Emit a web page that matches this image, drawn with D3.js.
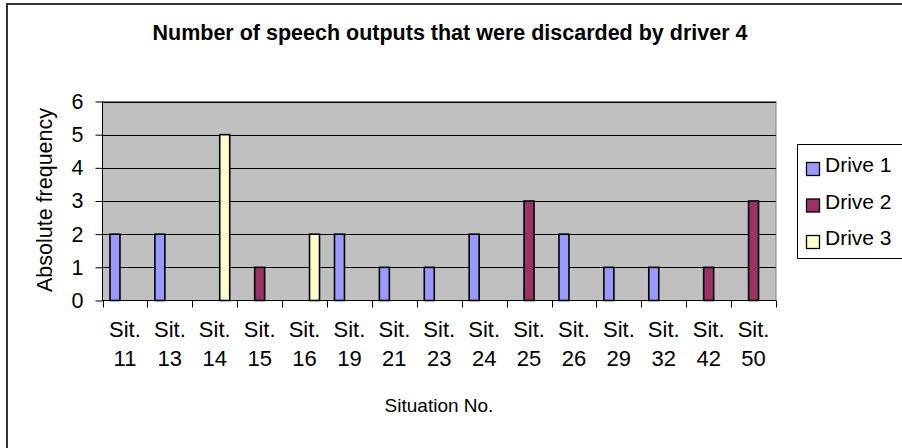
<!DOCTYPE html>
<html>
<head>
<meta charset="utf-8">
<script src="https://cdn.jsdelivr.net/npm/d3@7/dist/d3.min.js"></script>
<style>
  body { margin: 0; background: #fff; }
  text { font-family: "Liberation Sans", Arial, sans-serif; fill: #000; }
</style>
</head>
<body>
<div id="chart"></div>
<script>
// situations on the x axis
var situations = ['11', '13', '14', '15', '16', '19', '21', '23', '24', '25', '26', '29', '32', '42', '50'];
var seriesNames = ['Drive 1', 'Drive 2', 'Drive 3'];
var seriesColors = ['#9999FF', '#993366', '#FFFFCC'];
// one value per situation, null = no bar
var drive1 = [2, 2, null, null, null, 2, 1, 1, 2, null, 2, 1, 1, null, null];
var drive2 = [null, null, null, 1, null, null, null, null, null, 3, null, null, null, 1, 3];
var drive3 = [null, null, 5, null, 2, null, null, null, null, null, null, null, null, null, null];
var yTicks = [0, 1, 2, 3, 4, 5, 6];

var W = 902, H = 448;
var plot = {left: 102.5, right: 776, top: 101.5, bottom: 300.5};

var svg = d3.select('#chart').append('svg')
    .attr('width', W)
    .attr('height', H);

// outer chart frame (right/bottom edges run off the picture)
svg.append('rect')
    .attr('x', 7).attr('y', 4)
    .attr('width', 1000).attr('height', 1000)
    .attr('fill', 'none')
    .attr('stroke', '#333')
    .attr('stroke-width', 2);

svg.append('text')
    .attr('x', 450).attr('y', 40)
    .attr('text-anchor', 'middle')
    .attr('font-weight', 'bold')
    .attr('font-size', 21.5)
    .text('Number of speech outputs that were discarded by driver 4');

var x = d3.scaleBand()
    .domain(situations)
    .range([plot.left, plot.right])
    .paddingInner(0)
    .paddingOuter(0);

var y = d3.scaleLinear()
    .domain([0, 6])
    .range([plot.bottom, plot.top]);

// Excel style: gap width 150% -> group is 3/(3+1.5) of the band
var inner = d3.scaleBand()
    .domain(seriesNames)
    .range([0, x.bandwidth() * 3 / 4.5]);
var offset = x.bandwidth() * 0.75 / 4.5;

svg.append('rect')
    .attr('x', plot.left).attr('y', plot.top)
    .attr('width', plot.right - plot.left)
    .attr('height', plot.bottom - plot.top)
    .attr('fill', '#C0C0C0')
    .attr('stroke', '#808080');

svg.append('g').selectAll('line')
    .data(yTicks.slice(1))
    .join('line')
    .attr('x1', plot.left).attr('x2', plot.right)
    .attr('y1', function(d) { return Math.round(y(d)) + 0.5; })
    .attr('y2', function(d) { return Math.round(y(d)) + 0.5; })
    .attr('stroke', '#000');

var allSeries = [drive1, drive2, drive3];
var bars = [];
allSeries.forEach(function(vals, si) {
  vals.forEach(function(v, ci) {
    if (v != null) bars.push({sit: situations[ci], series: seriesNames[si], color: seriesColors[si], value: v});
  });
});

svg.append('g').selectAll('rect')
    .data(bars)
    .join('rect')
    .attr('x', function(d) { return x(d.sit) + offset + inner(d.series); })
    .attr('y', function(d) { return y(d.value); })
    .attr('width', inner.bandwidth())
    .attr('height', function(d) { return y(0) - y(d.value); })
    .attr('fill', function(d) { return d.color; })
    .attr('stroke', '#000')
    .attr('stroke-width', 1.6);

// y axis
var yAxis = svg.append('g')
    .attr('transform', 'translate(' + plot.left + ',0)')
    .call(d3.axisLeft(y).tickValues(yTicks).tickSize(7).tickPadding(12).tickFormat(d3.format('d')));
yAxis.select('.domain').attr('stroke', '#000').attr('d', 'M0,' + plot.top + 'V' + plot.bottom);
yAxis.selectAll('.tick line').attr('stroke', '#000');
yAxis.selectAll('.tick text').attr('font-size', 21.5).attr('font-family', '"Liberation Sans", Arial, sans-serif');

// x axis: ticks on band boundaries
var boundaries = situations.map(function(s) { return x(s); }).concat([plot.right]);
svg.append('line')
    .attr('x1', plot.left).attr('x2', plot.right)
    .attr('y1', plot.bottom).attr('y2', plot.bottom)
    .attr('stroke', '#000');
svg.append('g').selectAll('line')
    .data(boundaries)
    .join('line')
    .attr('x1', function(d) { return Math.round(d) + 0.5; })
    .attr('x2', function(d) { return Math.round(d) + 0.5; })
    .attr('y1', plot.bottom).attr('y2', plot.bottom + 7)
    .attr('stroke', '#000');

var labels = svg.append('g').selectAll('text')
    .data(situations)
    .join('text')
    .attr('text-anchor', 'middle')
    .attr('font-size', 22)
    .attr('transform', function(d) { return 'translate(' + (x(d) + x.bandwidth() / 2) + ',0)'; });
labels.append('tspan').attr('x', 0).attr('y', 337).text('Sit.');
labels.append('tspan').attr('x', 0).attr('y', 366).text(function(d) { return d; });

svg.append('text')
    .attr('x', 439).attr('y', 412)
    .attr('text-anchor', 'middle')
    .attr('font-size', 19)
    .text('Situation No.');

svg.append('text')
    .attr('transform', 'translate(52,200) rotate(-90)')
    .attr('text-anchor', 'middle')
    .attr('font-size', 21.5)
    .text('Absolute frequency');

// legend
var legend = svg.append('g').attr('transform', 'translate(797,144)');
legend.append('rect')
    .attr('x', 0.5).attr('y', 0.5)
    .attr('width', 130).attr('height', 114)
    .attr('fill', '#fff')
    .attr('stroke', '#000');
var items = legend.selectAll('g.item')
    .data(seriesNames)
    .join('g')
    .attr('class', 'item')
    .attr('transform', function(d, i) { return 'translate(0,' + (i * 36.5) + ')'; });
items.append('rect')
    .attr('x', 9.5).attr('y', 18.5)
    .attr('width', 13).attr('height', 13)
    .attr('fill', function(d, i) { return seriesColors[i]; })
    .attr('stroke', '#000')
    .attr('stroke-width', 1.3);
items.append('text')
    .attr('x', 28).attr('y', 28)
    .attr('font-size', 21)
    .text(function(d) { return d; });
</script>
</body>
</html>
